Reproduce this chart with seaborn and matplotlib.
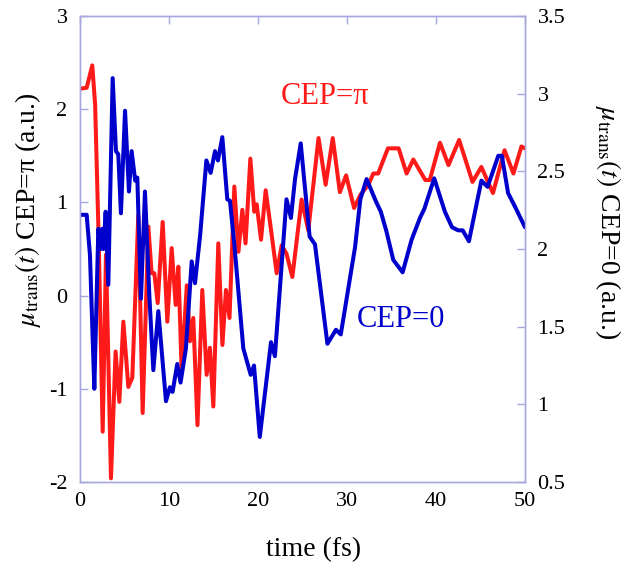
import numpy as np
import pandas as pd
import matplotlib
matplotlib.use("Agg")
import matplotlib.pyplot as plt
import seaborn as sns

# ---- data ----
t_pi = [0, 0.75, 1.38, 1.7, 2.1, 2.55, 2.92, 3.48, 4.0, 4.42, 4.87, 5.43, 5.88, 6.55, 7.04,
        7.68, 8.05, 8.35, 8.73, 9.29, 9.81, 10.3, 10.75, 11.05, 11.42, 12.0, 12.36, 12.73,
        13.2, 13.74, 14.23, 14.6, 14.98, 15.54, 16.0, 16.4, 16.8, 17.34, 17.8, 18.24, 18.6,
        19.14, 19.58, 19.85, 20.34, 20.86, 21.4, 22.1, 22.66, 23.2, 23.86, 24.9, 25.65, 26.8,
        27.6, 28.4, 29.2, 29.9, 30.8, 31.5, 32.4, 32.96, 33.5, 34.6, 35.8, 36.7, 37.45, 38.8,
        39.3, 40.45, 41.4, 42.6, 44.1, 45.1, 46.4, 47.7, 48.7, 49.6, 50]
mu_pi = [2.22, 2.23, 2.47, 2.05, 0.6, -1.46, 0.44, -1.96, -0.60, -1.14, -0.28, -0.98, -0.88,
         0.86, -1.26, 0.74, 0.24, 0.24, -0.08, 0.79, -0.28, 0.51, -0.10, 0.31, -0.80, 0.11,
         -0.49, -0.24, -1.39, 0.06, -0.85, -0.56, -1.19, 0.56, -0.53, 0.06, -0.24, 1.17, 0.47,
         0.92, 0.56, 1.47, 0.90, 0.98, 0.60, 1.13, 0.75, 0.24, 0.54, 0.45, 0.20, 1.03, 0.70,
         1.69, 1.19, 1.69, 1.11, 1.29, 0.94, 1.08, 1.19, 1.31, 1.31, 1.58, 1.58, 1.31, 1.46,
         1.24, 1.24, 1.64, 1.40, 1.67, 1.22, 1.38, 1.10, 1.56, 1.31, 1.60, 1.58]

t_0 = [0, 0.75, 1.12, 1.42, 1.61, 2.06, 2.32, 2.5, 2.65, 2.88, 3.18, 3.67, 4.04, 4.3, 4.6,
       5.06, 5.5, 5.8, 6.2, 6.44, 6.85, 7.3, 7.79, 8.24, 8.8, 9.66, 10.1, 10.4, 10.93, 11.3,
       11.9, 12.55, 12.92, 13.5, 14.2, 14.68, 15.17, 15.5, 15.99, 16.55, 16.85, 17.34, 18.35,
       19.18, 19.55, 20.2, 21.46, 21.9, 23.2, 23.7, 24.16, 24.8, 25.8, 26.4, 27.8, 28.76, 29.3,
       30.9, 31.5, 32.2, 33.3, 33.8, 34.4, 35.2, 36.25, 37.26, 38.2, 38.7, 39.8, 41.0, 41.8,
       42.5, 43.0, 43.7, 45.1, 45.8, 47.0, 47.4, 48.1, 48.9, 50]
mu_0 = [2.22, 2.22, 1.96, 1.43, 1.10, 2.13, 2.0, 2.13, 2.0, 2.24, 1.77, 3.10, 2.63, 2.61, 2.23,
        2.89, 2.37, 2.63, 2.44, 2.46, 1.68, 2.37, 1.70, 1.22, 1.60, 1.02, 1.11, 1.08, 1.26, 1.14,
        1.36, 1.92, 1.78, 2.09, 2.57, 2.49, 2.63, 2.57, 2.72, 2.32, 2.31, 2.03, 1.36, 1.19, 1.25,
        0.79, 1.40, 1.31, 2.32, 2.20, 2.45, 2.68, 2.08, 2.03, 1.39, 1.48, 1.45, 2.01, 2.32, 2.45,
        2.30, 2.24, 2.12, 1.93, 1.85, 2.06, 2.20, 2.26, 2.455, 2.24, 2.14, 2.12, 2.12, 2.05, 2.44,
        2.40, 2.60, 2.60, 2.36, 2.27, 2.14]

x_ticks = [0, 10, 20, 30, 40, 50]
left_ticks = [-2, -1, 0, 1, 2, 3]
left_labels = ["-2", "-1", "0", "1", "2", "3"]
right_ticks = [0.5, 1, 1.5, 2, 2.5, 3, 3.5]
right_labels = ["0.5", "1", "1.5", "2", "2.5", "3", "3.5"]

df_pi = pd.DataFrame({"t": t_pi, "mu": mu_pi})
df_0 = pd.DataFrame({"t": t_0, "mu": mu_0})

# ---- style ----
sns.set_style("white")
plt.rcParams["font.family"] = ["Liberation Serif", "DejaVu Serif"]
plt.rcParams["mathtext.fontset"] = "stix"
plt.rcParams["axes.unicode_minus"] = False
plt.rcParams["text.color"] = "black"
plt.rcParams["axes.labelcolor"] = "black"
plt.rcParams["xtick.labelcolor"] = "black"
plt.rcParams["ytick.labelcolor"] = "black"

RED = "#ff1a1a"
BLUE = "#0000cc"
SPINE = "#a8a8dc"

fig = plt.figure(figsize=(6.25, 5.71), dpi=100)
ax = fig.add_axes([80 / 625, 1 - 482 / 571, 445 / 625, 466 / 571])
ax2 = ax.twinx()

sns.lineplot(data=df_pi, x="t", y="mu", ax=ax, color=RED, linewidth=2.9, sort=False, zorder=3)
sns.lineplot(data=df_0, x="t", y="mu", ax=ax2, color=BLUE, linewidth=2.9, sort=False, zorder=2)

ax.set_xlim(0, 50)
ax.set_ylim(-2, 3)
ax2.set_ylim(0.5, 3.5)

ax.set_xticks(x_ticks)
ax.set_xticklabels([str(v) for v in x_ticks])
ax.set_yticks(left_ticks)
ax.set_yticklabels(left_labels)
ax2.set_yticks(right_ticks)
ax2.set_yticklabels(right_labels)

for a in (ax, ax2):
    for s in a.spines.values():
        s.set_color(SPINE)
        s.set_linewidth(1.0)

ax.tick_params(axis="x", direction="in", length=6, width=1, color=SPINE, top=True,
               labelsize=16, pad=7, labelcolor="black")
ax.tick_params(axis="y", direction="in", length=6, width=1, color=SPINE, right=False,
               labelsize=16, pad=9, labelcolor="black")
ax2.tick_params(axis="y", direction="in", length=6, width=1, color=SPINE,
                labelsize=16, pad=9, labelcolor="black")

ax.set_xlabel("time (fs)", fontsize=20, va="center", color="black")
ax.xaxis.set_label_coords(0.524, -0.146)
ax.set_ylabel(r"$\mu_{\mathrm{trans}}(t)$ CEP=π (a.u.)", fontsize=20, va="center",
              color="black")
ax.yaxis.set_label_coords(-0.117, 0.584)
ax2.set_ylabel(r"$\mu_{\mathrm{trans}}(t)$ CEP=0 (a.u.)", fontsize=20, rotation=-90,
               va="center", color="black")
ax2.yaxis.set_label_coords(1.187, 0.558)

ax.text(22.55, 2.14, "CEP=π", color=RED, fontsize=22, va="center", ha="left")
ax.text(31.1, -0.26, "CEP=0", color=BLUE, fontsize=22, va="center", ha="left")

fig.savefig("out.png", dpi=100, facecolor="white")
